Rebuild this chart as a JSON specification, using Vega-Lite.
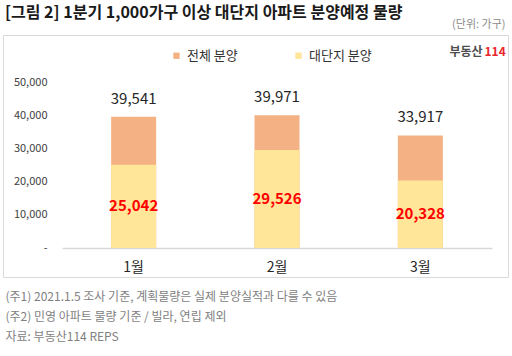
{
  "$schema": "https://vega.github.io/schema/vega-lite/v6.json",
  "width": 505,
  "height": 242,
  "autosize": "none",
  "padding": {"left": 3, "top": 35, "right": 4, "bottom": 79},
  "background": "white",
  "config": {
    "font": "Noto Sans CJK KR",
    "view": {"stroke": "#d9d9d9", "strokeWidth": 1}
  },
  "title": {
    "text": "[그림 2] 1분기 1,000가구 이상 대단지 아파트 분양예정 물량",
    "anchor": "start",
    "frame": "group",
    "dx": 2,
    "offset": -3,
    "fontSize": 16,
    "fontWeight": "bold",
    "color": "#1a1a1a",
    "font": "Noto Sans CJK KR"
  },
  "data": {
    "values": [
      {"month": "1월", "series": "전체 분양", "value": 39541},
      {"month": "1월", "series": "대단지 분양", "value": 25042},
      {"month": "2월", "series": "전체 분양", "value": 39971},
      {"month": "2월", "series": "대단지 분양", "value": 29526},
      {"month": "3월", "series": "전체 분양", "value": 33917},
      {"month": "3월", "series": "대단지 분양", "value": 20328}
    ]
  },
  "resolve": {"axis": {"x": "independent", "y": "independent"}},
  "layer": [
    {
      "mark": {"type": "bar"},
      "encoding": {
        "x": {
          "field": "month", "type": "nominal", "sort": null,
          "scale": {"range": [59, 489], "paddingInner": 0.686, "paddingOuter": 0.343},
          "axis": {
            "orient": "bottom", "offset": -29, "domainColor": "#d9d9d9", "domainWidth": 1.5,
            "ticks": false, "labelFontSize": 14, "labelColor": "#262626", "labelPadding": 12, "labelAngle": 0,
            "title": ["(주1) 2021.1.5 조사 기준, 계획물량은 실제 분양실적과 다를 수 있음", "(주2) 민영 아파트 물량 기준 / 빌라, 연립 제외", "자료: 부동산114 REPS"],
            "titleAlign": "left", "titleAnchor": "start", "titleBaseline": "top", "titleX": 2, "titleY": 43,
            "titleFontSize": 12, "titleFontWeight": "normal", "titleColor": "#7f7f7f", "titleLineHeight": 20
          }
        },
        "y": {
          "field": "value", "type": "quantitative", "stack": null,
          "scale": {"domain": [0, 50000], "range": [213, 47], "nice": false, "zero": true},
          "axis": {
            "orient": "left", "offset": -48, "domain": false, "ticks": false, "grid": false,
            "labelPadding": 4, "labelFontSize": 11, "labelColor": "#404040",
            "values": [0, 10000, 20000, 30000, 40000, 50000],
            "labelExpr": "datum.value == 0 ? '-' : format(datum.value, ',')",
            "title": "(단위: 가구)", "titleAngle": 0, "titleAlign": "right", "titleBaseline": "middle",
            "titleX": 454, "titleY": -11, "titleFontSize": 11, "titleFontWeight": "normal", "titleColor": "#8c8c8c"
          }
        },
        "color": {
          "field": "series", "type": "nominal",
          "scale": {"domain": ["전체 분양", "대단지 분양"], "range": ["#F4B183", "#FFE699"]},
          "legend": {
            "orient": "none", "legendX": 167, "legendY": 14, "direction": "horizontal", "title": null,
            "symbolType": "square", "symbolSize": 40, "symbolStrokeWidth": 0, "labelFontSize": 13, "labelColor": "#333333",
            "columnPadding": 54, "labelOffset": 4
          }
        }
      }
    },
    {
      "transform": [{"filter": "datum.series == '전체 분양'"}],
      "mark": {"type": "text", "dy": -18, "fontSize": 15, "color": "#262626"},
      "encoding": {
        "x": {
          "field": "month", "type": "nominal", "sort": null,
          "scale": {"range": [59, 489], "paddingInner": 0.686, "paddingOuter": 0.343},
          "axis": {"orient": "top", "labels": false, "ticks": false, "domain": false, "title": "114",
            "titleAlign": "left", "titleBaseline": "middle", "titleX": 481, "titleY": 16,
            "titleFontSize": 12, "titleFontWeight": "bold", "titleColor": "#e8262a"}
        },
        "y": {
          "field": "value", "type": "quantitative",
          "scale": {"domain": [0, 50000], "range": [213, 47], "nice": false, "zero": true},
          "axis": {"orient": "right", "labels": false, "ticks": false, "domain": false, "grid": false, "title": "부동산",
            "titleAngle": 0, "titleAlign": "right", "titleBaseline": "middle", "titleX": -26, "titleY": 16,
            "titleFontSize": 12, "titleFontWeight": "bold", "titleColor": "#4d4d4d"}
        },
        "text": {"field": "value", "type": "quantitative", "format": ","}
      }
    },
    {
      "transform": [{"filter": "datum.series == '대단지 분양'"}, {"calculate": "datum.value / 2", "as": "mid"}],
      "mark": {"type": "text", "fontSize": 15, "fontWeight": "bold", "color": "#ff0000"},
      "encoding": {
        "x": {"field": "month", "type": "nominal", "sort": null, "axis": null,
          "scale": {"range": [59, 489], "paddingInner": 0.686, "paddingOuter": 0.343}},
        "y": {"field": "mid", "type": "quantitative", "axis": null,
          "scale": {"domain": [0, 50000], "range": [213, 47], "nice": false, "zero": true}},
        "text": {"field": "value", "type": "quantitative", "format": ","}
      }
    }
  ]
}
